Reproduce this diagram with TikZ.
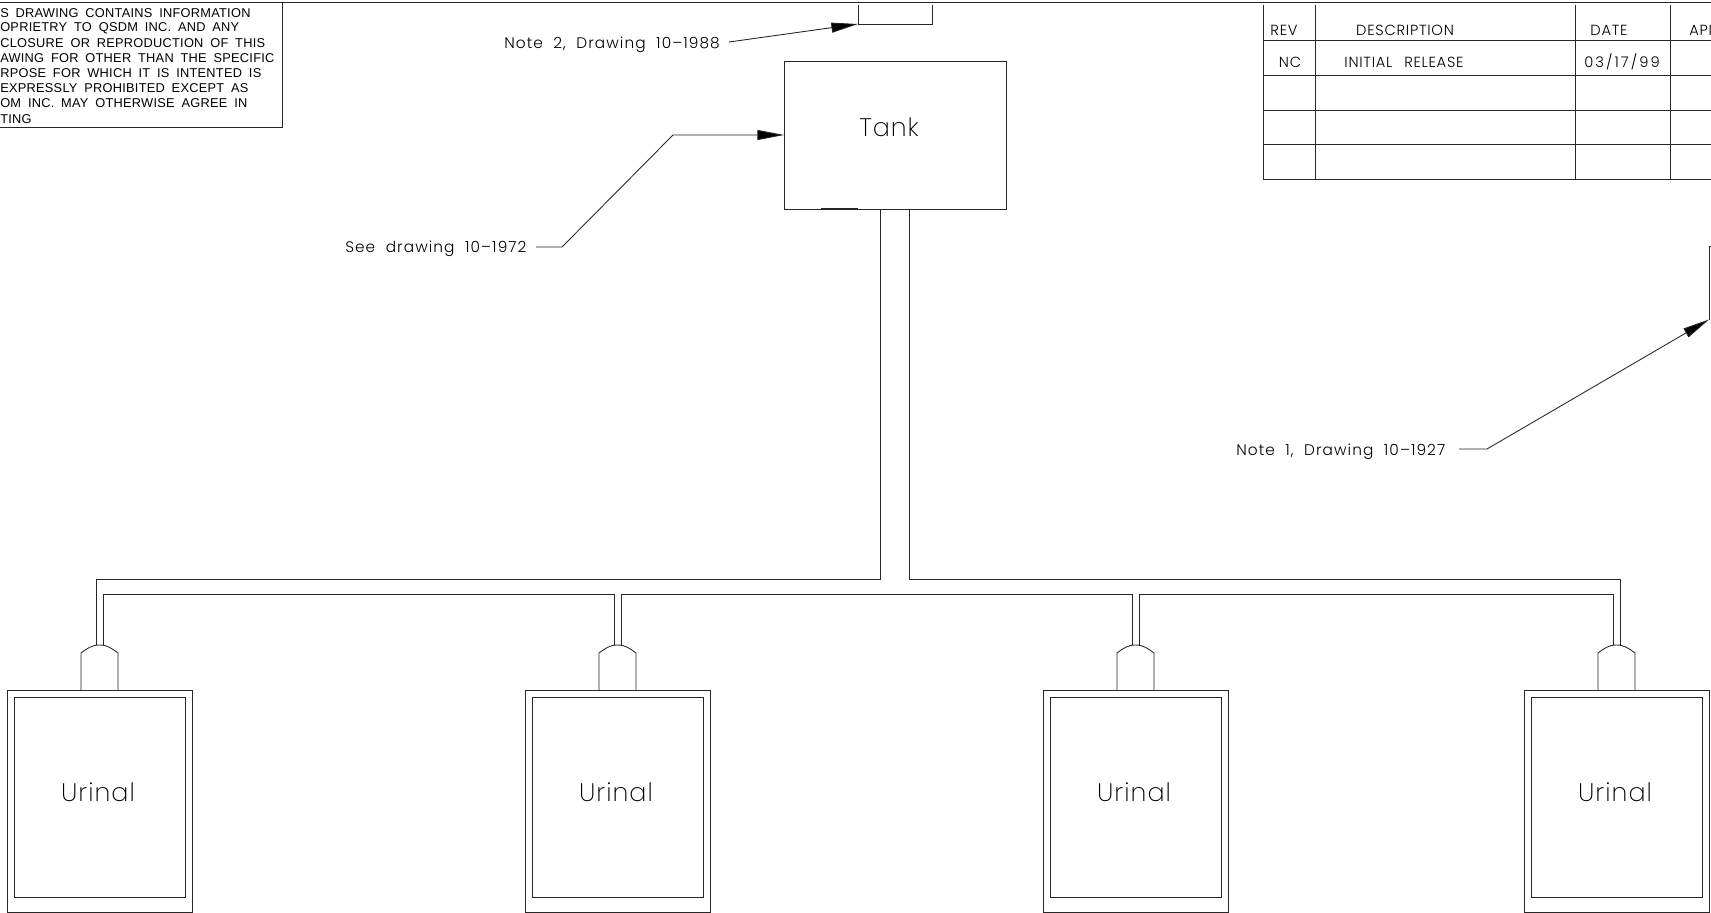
\documentclass[tikz,border=0pt]{standalone}
\usepackage{fontspec}
\setmainfont[WordSpace=1.8, LetterSpace=2]{Liberation Sans}
\newfontfamily\labelfont[LetterSpace=7, WordSpace=2]{Poppins Light}
\newfontfamily\tablefont[LetterSpace=5, WordSpace=2.5]{Poppins Light}
\newfontfamily\datefont[LetterSpace=14]{Poppins Light}
\newfontfamily\namefont[LetterSpace=4]{Poppins ExtraLight}
\usetikzlibrary{arrows.meta,positioning}
\tikzset{
    wire/.style={draw=black!85, line width=0.65pt},
    box/.style={draw=black!85, line width=0.65pt, inner sep=0pt, outer sep=0pt},
    leader/.style={wire, -{Triangle[length=20pt, width=7.5pt, fill=black]}},
    note/.style={inner sep=0pt, font=\labelfont\fontsize{11.5}{13}\selectfont},
    legal/.style={inner sep=0pt, anchor=west, font=\fontsize{9.6}{11}\selectfont},
    rowtext/.style={inner sep=0pt, font=\tablefont\fontsize{11}{13}\selectfont},
    bigtext/.style={inner sep=0pt, font=\namefont\fontsize{19}{22}\selectfont},
}
\begin{document}
\begin{tikzpicture}[x=0.75pt, y=-0.75pt]
    \useasboundingbox (0,0) rectangle (1711,913);

    % sheet top and legal box
    \coordinate (sheetl) at (0,2.5);
    \coordinate (sheetr) at (1711,2.5);
    \draw[wire] (sheetl) -- (sheetr);
    \coordinate (legalt) at (282,2.5);
    \coordinate (legalb) at (282,127);
    \coordinate (legale) at (0,127);
    \draw[wire] (legalt) -- (legalb) -- (legale);
    \node[legal] (l1) at (0,13) {S DRAWING CONTAINS INFORMATION};
    \node[legal] (l2) at (0,28) {OPRIETRY TO QSDM INC. AND ANY};
    \node[legal] (l3) at (0,43) {CLOSURE OR REPRODUCTION OF THIS};
    \node[legal] (l4) at (0,58) {AWING FOR OTHER THAN THE SPECIFIC};
    \node[legal] (l5) at (0,73) {RPOSE FOR WHICH IT IS INTENTED IS};
    \node[legal] (l6) at (0,88) {EXPRESSLY PROHIBITED EXCEPT AS};
    \node[legal] (l7) at (0,103) {OM INC. MAY OTHERWISE AGREE IN};
    \node[legal] (l8) at (0,119.5) {TING};

    % revision table
    \foreach \rowy [count=\i] in {40,75,110,144,179} {
        \coordinate (rowl\i) at (1263,\rowy);
        \coordinate (rowr\i) at (1711,\rowy);
        \draw[wire] (rowl\i) -- (rowr\i);
    }
    \foreach \colx [count=\i] in {1263,1315,1575,1670} {
        \coordinate (colt\i) at (\colx,5);
        \coordinate (colb\i) at (\colx,179);
        \draw[wire] (colt\i) -- (colb\i);
    }
    \node[rowtext] (rev) at (1284,30) {REV};
    \node[rowtext] (desc) at (1405,30) {DESCRIPTION};
    \node[rowtext] (date) at (1609,30) {DATE};
    \node[rowtext, anchor=west] (appr) at (1689,30) {API};
    \node[rowtext] (nc) at (1290,62) {NC};
    \node[rowtext] (init) at (1404,62) {INITIAL RELEASE};
    \node[rowtext, font=\datefont\fontsize{11}{13}\selectfont] (dated) at (1622,62) {03/17/99};

    % tank
    \node[box, minimum width=166.5pt, minimum height=111pt] (tank) at (895,135) {};
    \node[bigtext] (tanktext) at (889,127) {Tank};
    \coordinate (tanka) at (821,209);
    \coordinate (tankb) at (858,209);
    \draw[wire, line width=1.2pt] (tanka) -- (tankb);

    % stub and its note
    \coordinate (stubl) at (858,5);
    \coordinate (stubc) at (858,24);
    \coordinate (stubd) at (932,24);
    \coordinate (stubr) at (932,5);
    \draw[wire] (stubl) -- (stubc) -- (stubd) -- (stubr);
    \node[note, anchor=west] (note2) at (504,44.5) {Note 2, Drawing 10–1988};
    \coordinate (note2a) at (729,42);
    \draw[leader] (note2a) -- (stubc);

    % drawing note
    \node[note, anchor=west] (seedrw) at (345,248.5) {See drawing 10–1972};
    \coordinate (seea) at (536,247);
    \coordinate (seeb) at (562,247);
    \coordinate (seec) at (673,135);
    \draw[leader] (seea) -- (seeb) -- (seec) -- (tank.west);

    % right edge note
    \node[note, anchor=west] (note1) at (1236,451.5) {Note 1, Drawing 10–1927};
    \coordinate (notea) at (1459,449);
    \coordinate (noteb) at (1487,449);
    \coordinate (notec) at (1709,319.5);
    \coordinate (noted) at (1709,246);
    \coordinate (notee) at (1711,246);
    \draw[leader] (notea) -- (noteb) -- (notec);
    \draw[wire] (notec) -- (noted) -- (notee);

    % urinals
    \foreach \name/\cx in {ua/99.5, ub/617.5, uc/1135.5, ud/1616.5} {
        \node[box, minimum width=138.75pt, minimum height=166.5pt] (\name) at (\cx,801) {};
        \node[box, minimum width=128.25pt, minimum height=150pt] (\name i) at (\cx,797) {};
        \node[bigtext] (\name t) at (\cx-1.5,792) {Urinal};
        \coordinate (\name l) at (\cx-18.5,690);
        \coordinate (\name r) at (\cx+18.5,690);
        \coordinate (\name sl) at (\cx-18.5,653);
        \coordinate (\name sr) at (\cx+18.5,653);
        \coordinate (\name c) at (\cx,645);
        \coordinate (\name p) at (\cx-3.5,645);
        \coordinate (\name q) at (\cx+3.5,645);
        \draw[wire] (\name l) -- (\name sl) to[out=36, in=180] (\name c)
            to[out=0, in=144] (\name sr) -- (\name r);
    }

    % pipes
    \coordinate (pipel) at (880,209);
    \coordinate (piper) at (909.5,209);
    \coordinate (pipelb) at (880,579);
    \coordinate (piperb) at (909.5,579);
    \coordinate (outa) at (96,579);
    \coordinate (outd) at (1620,579);
    \draw[wire] (pipel) -- (pipelb) -- (outa) -- (uap);
    \draw[wire] (piper) -- (piperb) -- (outd) -- (udq);
    \coordinate (ina) at (103,594);
    \coordinate (inb) at (614,594);
    \coordinate (inc) at (621,594);
    \coordinate (ind) at (1132,594);
    \coordinate (ine) at (1139,594);
    \coordinate (inf) at (1613,594);
    \draw[wire] (uaq) -- (ina) -- (inb) -- (ubp);
    \draw[wire] (ubq) -- (inc) -- (ind) -- (ucp);
    \draw[wire] (ucq) -- (ine) -- (inf) -- (udp);
\end{tikzpicture}
\end{document}
